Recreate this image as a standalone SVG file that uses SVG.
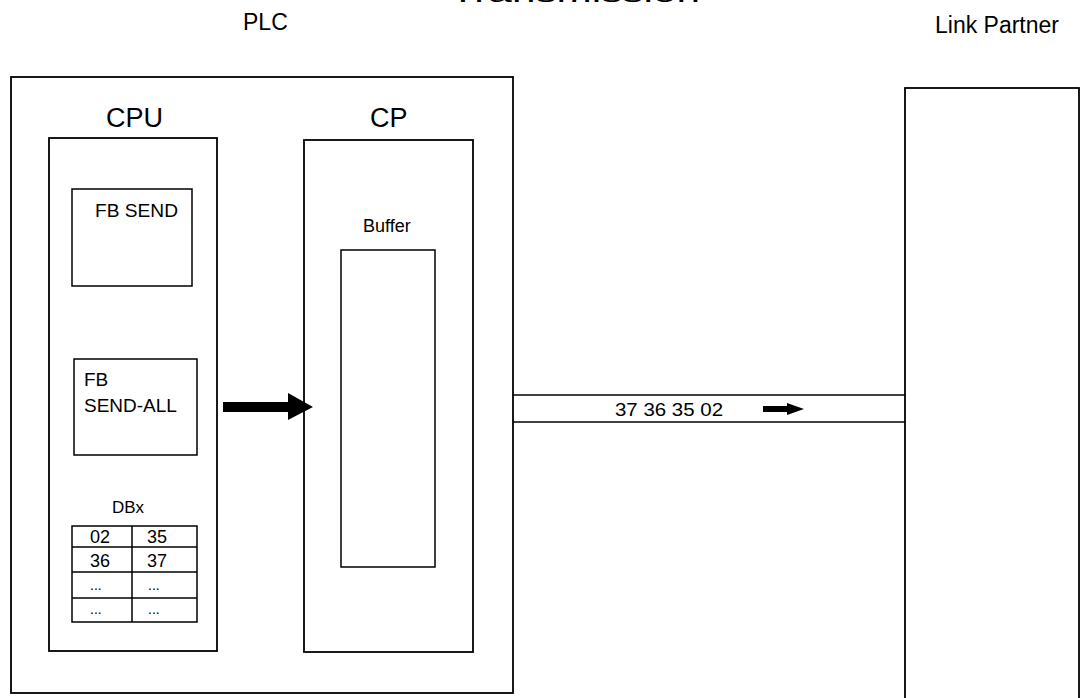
<svg xmlns="http://www.w3.org/2000/svg" width="1080" height="698" viewBox="0 0 1080 698">
<defs>
<style>
.box{fill:none;stroke:#000;stroke-width:1.8}
.thin{fill:none;stroke:#000;stroke-width:1.5}
text{font-family:"Liberation Sans",Arial,sans-serif;fill:#000}
.big{font-size:23px}
.hdr{font-size:27px}
.mid{font-size:19px}
.sm{font-size:18px}
</style>
</defs>
<rect width="1080" height="698" fill="#fff"/>
<text id="title" x="450" y="2" font-size="26" textLength="250" lengthAdjust="spacingAndGlyphs">Transmission</text>
<g id="plc">
<rect class="box" x="11" y="77" width="502" height="616"/>
<text class="big" x="243" y="30">PLC</text>
</g>
<g id="cpu">
<rect class="box" x="49" y="138" width="168" height="513"/>
<text class="hdr" x="106" y="127">CPU</text>
</g>
<g id="fb-send">
<rect class="thin" x="72" y="189" width="120" height="97"/>
<text class="mid" x="95" y="217" textLength="83" lengthAdjust="spacingAndGlyphs">FB SEND</text>
</g>
<g id="fb-send-all">
<rect class="thin" x="74" y="359" width="123" height="96"/>
<text class="mid" x="84" y="386" font-size="20">FB</text>
<text class="mid" x="84" y="412" font-size="20">SEND-ALL</text>
</g>
<g id="dbx">
<text x="112" y="513" font-size="17">DBx</text>
<rect class="thin" x="72" y="526" width="125" height="96"/>
<line class="thin" x1="132" y1="526" x2="132" y2="622"/>
<line class="thin" x1="72" y1="547" x2="197" y2="547"/>
<line class="thin" x1="72" y1="572" x2="197" y2="572"/>
<line class="thin" x1="72" y1="598" x2="197" y2="598"/>
<text class="sm" x="90" y="543">02</text>
<text class="sm" x="147" y="543">35</text>
<text class="sm" x="90" y="567">36</text>
<text class="sm" x="147" y="567">37</text>
<text x="90" y="590" font-size="14">...</text>
<text x="148" y="590" font-size="14">...</text>
<text x="90" y="614" font-size="14">...</text>
<text x="148" y="614" font-size="14">...</text>
</g>
<g id="cp">
<rect class="box" x="304" y="140" width="169" height="512"/>
<text class="hdr" x="370" y="127">CP</text>
<text x="363" y="232" font-size="18">Buffer</text>
<rect class="thin" x="341" y="250" width="94" height="317"/>
</g>
<g id="link-partner">
<rect class="box" x="905" y="88" width="174" height="620"/>
<text class="big" x="935" y="33">Link Partner</text>
</g>
<g id="connectors">
<polygon points="223,402 288,402 288,393 313,407 288,420 288,412 223,412" fill="#000"/>
<line class="thin" x1="513" y1="395" x2="905" y2="395"/>
<line class="thin" x1="513" y1="422" x2="905" y2="422"/>
<text class="mid" x="615" y="416" textLength="108" lengthAdjust="spacingAndGlyphs">37 36 35 02</text>
<polygon points="763,406 787,406 787,403 804,409 787,415 787,412 763,412" fill="#000"/>
</g>
</svg>
